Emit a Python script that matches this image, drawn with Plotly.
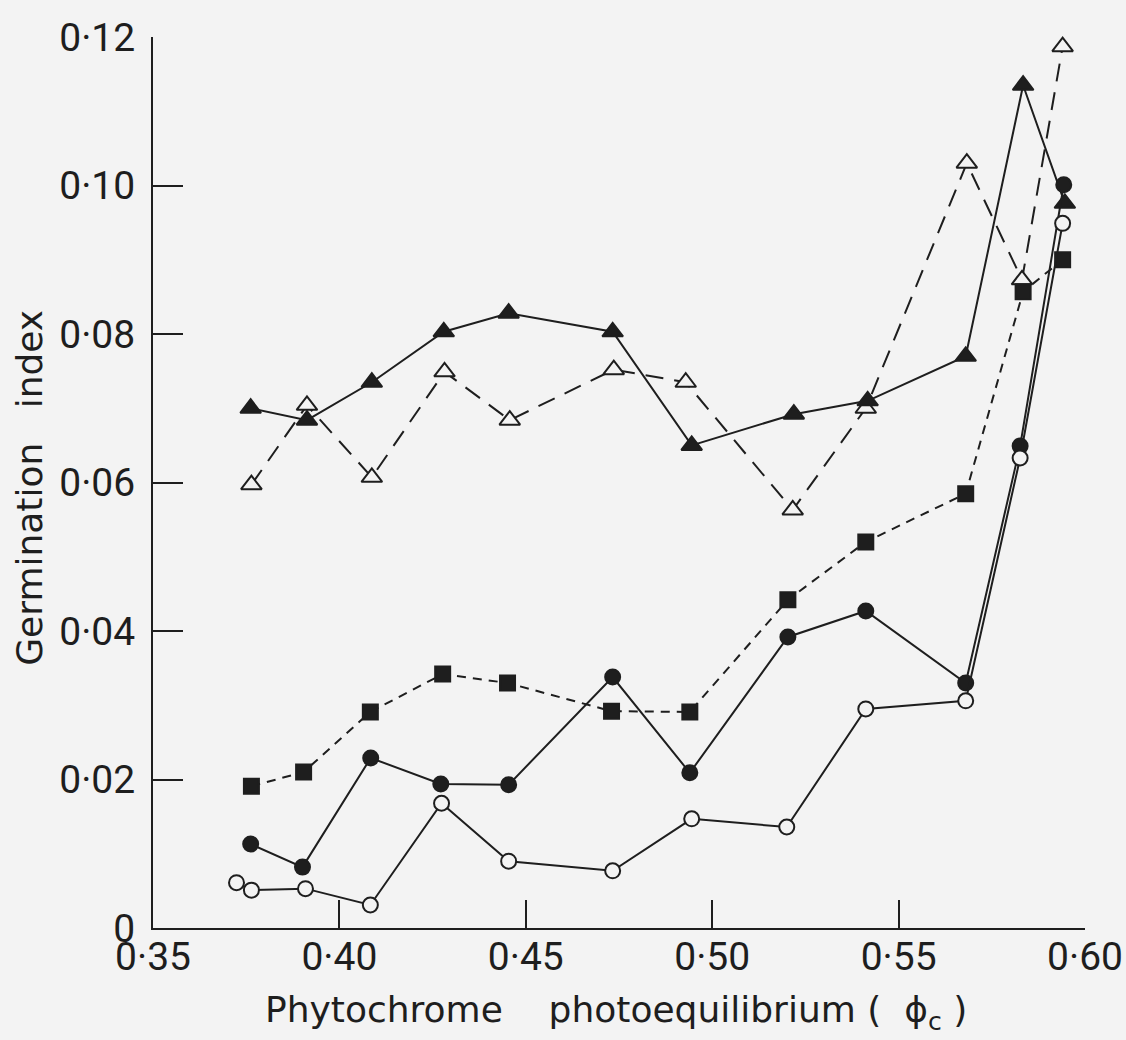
import plotly.graph_objects as go

# --- data ---
x_tri_filled = [0.3762, 0.3913, 0.4087, 0.4280, 0.4454, 0.4733, 0.4945, 0.5219, 0.5417, 0.5680, 0.5834, 0.5946]
y_tri_filled = [0.0700, 0.0684, 0.0735, 0.0803, 0.0828, 0.0803, 0.0650, 0.0692, 0.0710, 0.0770, 0.1135, 0.0976]

x_tri_open = [0.3764, 0.3913, 0.4087, 0.4282, 0.4457, 0.4736, 0.4929, 0.5216, 0.5412, 0.5683, 0.5831, 0.5940]
y_tri_open = [0.0597, 0.0704, 0.0607, 0.0749, 0.0684, 0.0752, 0.0735, 0.0563, 0.0700, 0.1030, 0.0873, 0.1187]

x_sq = [0.3764, 0.3904, 0.4083, 0.4277, 0.4451, 0.4730, 0.4940, 0.5203, 0.5412, 0.5680, 0.5834, 0.5940]
y_sq = [0.0191, 0.0210, 0.0291, 0.0342, 0.0330, 0.0292, 0.0291, 0.0442, 0.0520, 0.0585, 0.0857, 0.0900]

x_circ_filled = [0.3762, 0.3901, 0.4084, 0.4272, 0.4454, 0.4733, 0.4940, 0.5203, 0.5412, 0.5680, 0.5826, 0.5943]
y_circ_filled = [0.0113, 0.0082, 0.0229, 0.0194, 0.0193, 0.0338, 0.0209, 0.0392, 0.0427, 0.0330, 0.0649, 0.1001]

x_circ_open = [0.3724, 0.3764, 0.3909, 0.4083, 0.4274, 0.4454, 0.4733, 0.4945, 0.5200, 0.5412, 0.5680, 0.5826, 0.5940]
y_circ_open = [0.0061, 0.0051, 0.0053, 0.0031, 0.0168, 0.0090, 0.0077, 0.0147, 0.0136, 0.0295, 0.0306, 0.0633, 0.0949]

x_tickvals = [0.35, 0.40, 0.45, 0.50, 0.55, 0.60]
x_ticktext = ["0·35", "0·40", "0·45", "0·50", "0·55", "0·60"]
y_tickvals = [0, 0.02, 0.04, 0.06, 0.08, 0.10, 0.12]
y_ticktext = ["0", "0·02", "0·04", "0·06", "0·08", "0·10", "0·12"]

BG = "#f3f3f3"
INK = "#1e1e1e"
TICKFONT = "Roboto"
TITLEFONT = "DejaVu Sans"

fig = go.Figure()

def add(x, y, symbol, filled, dash, size):
    fig.add_trace(go.Scatter(
        x=x, y=y, mode="lines+markers",
        line=dict(color=INK, width=2, dash=dash),
        marker=dict(symbol=symbol, size=size,
                    color=INK if filled else BG,
                    line=dict(color=INK, width=2)),
        cliponaxis=False, showlegend=False, hoverinfo="skip",
    ))

add(x_tri_open, y_tri_open, "triangle-up", False, "18px,11px", 18)
add(x_tri_filled, y_tri_filled, "triangle-up", True, "solid", 18)
add(x_sq, y_sq, "square", True, "9px,7px", 15)
add(x_circ_filled, y_circ_filled, "circle", True, "solid", 15)
add(x_circ_open, y_circ_open, "circle", False, "solid", 15)

fig.update_layout(
    width=1126, height=1040,
    margin=dict(l=153, r=41, t=37, b=112),
    paper_bgcolor=BG, plot_bgcolor=BG,
    font=dict(family=TICKFONT, size=39, color=INK),
    xaxis=dict(
        range=[0.35, 0.60], showgrid=False, zeroline=False,
        showline=True, linecolor=INK, linewidth=2,
        ticks="inside", ticklen=28, tickwidth=2, tickcolor=INK,
        tickvals=x_tickvals, ticktext=x_ticktext,
        ticklabelstandoff=-7, automargin=False,
        tickfont=dict(family=TICKFONT, size=39, color=INK),
    ),
    yaxis=dict(
        range=[0, 0.12], showgrid=False, zeroline=False,
        showline=True, linecolor=INK, linewidth=2,
        ticks="inside", ticklen=30, tickwidth=2, tickcolor=INK,
        tickvals=y_tickvals, ticktext=y_ticktext,
        ticklabelstandoff=8, automargin=False,
        tickfont=dict(family=TICKFONT, size=39, color=INK),
    ),
    annotations=[
        dict(text="Phytochrome&nbsp;&nbsp;&nbsp;&nbsp;photoequilibrium&nbsp;(&nbsp;&nbsp;ϕ<sub>c</sub>&nbsp;)",
             xref="paper", yref="paper", x=0.497, y=-0.095,
             xanchor="center", yanchor="middle", showarrow=False,
             font=dict(family=TITLEFONT, size=36, color=INK)),
        dict(text="Germination&nbsp;&nbsp;&nbsp;index",
             xref="paper", yref="paper", x=-0.132, y=0.494,
             xanchor="center", yanchor="middle", textangle=-90, showarrow=False,
             font=dict(family=TITLEFONT, size=36, color=INK)),
    ],
)

fig.write_html(
    "out.html",
    config={"displayModeBar": False},
    post_script="document.body.style.margin='0';document.body.style.background='#f3f3f3';",
)
